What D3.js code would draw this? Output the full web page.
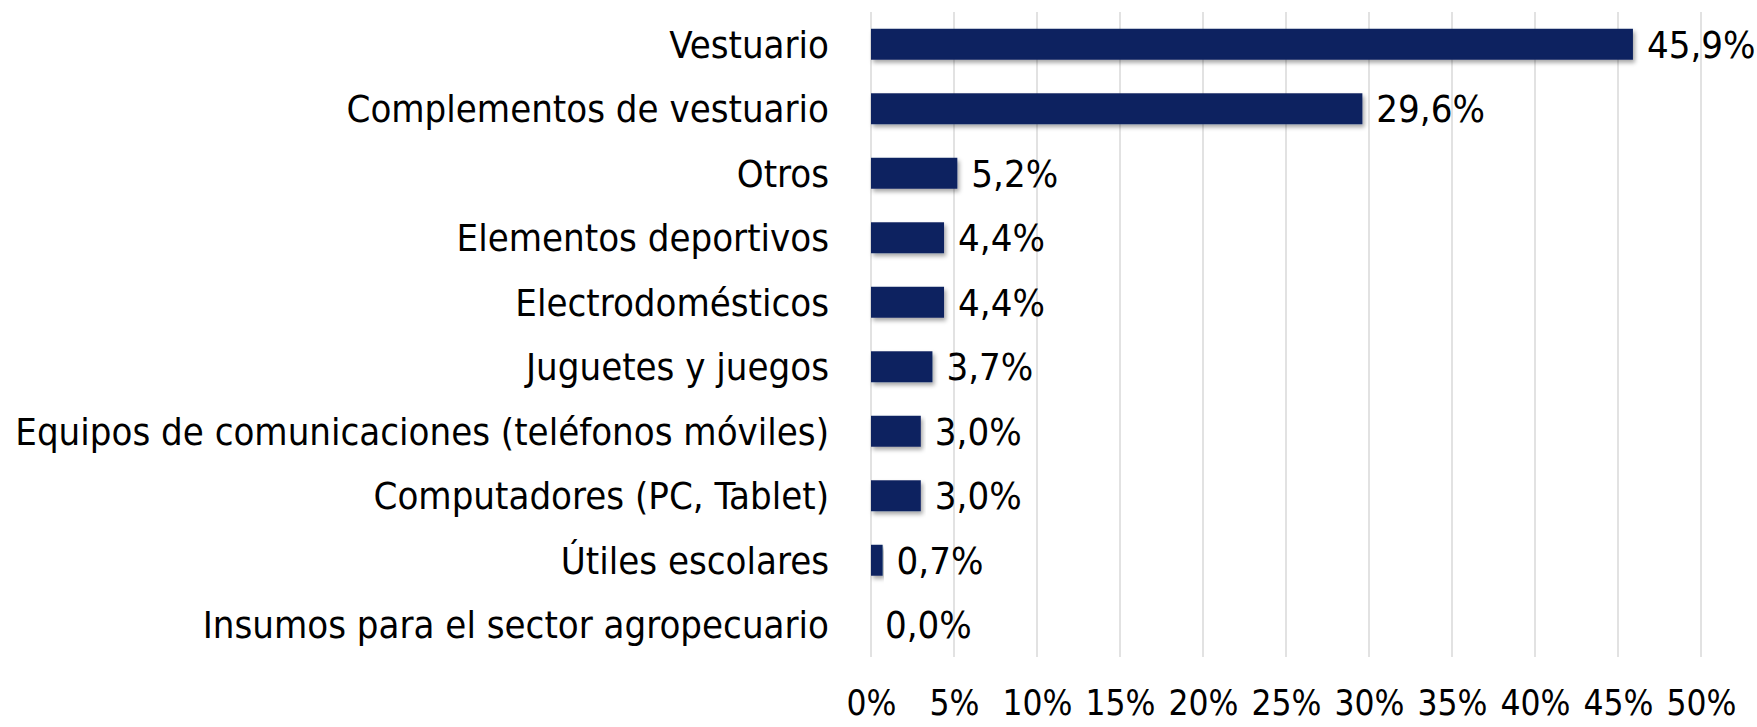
<!DOCTYPE html>
<html>
<head>
<meta charset="utf-8">
<script src="https://cdn.jsdelivr.net/npm/d3@7"></script>
<style>
    html, body { margin: 0; padding: 0; background: #fff; }
    svg { display: block; }
</style>
</head>
<body>
<svg id="chart" width="1757" height="727"></svg>
<script>
// categorias y valores (%)
let categories = [
    "Vestuario",
    "Complementos de vestuario",
    "Otros",
    "Elementos deportivos",
    "Electrodomésticos",
    "Juguetes y juegos",
    "Equipos de comunicaciones (teléfonos móviles)",
    "Computadores (PC, Tablet)",
    "Útiles escolares",
    "Insumos para el sector agropecuario"
];
let values = [45.9, 29.6, 5.2, 4.4, 4.4, 3.7, 3.0, 3.0, 0.7, 0.0];
let ticks = [0, 5, 10, 15, 20, 25, 30, 35, 40, 45, 50];

const BAR_COLOR = "#0b2361";
const GRID_COLOR = "#d9d9d9";
const FONT = "'DejaVu Sans Condensed', 'DejaVu Sans', sans-serif";
const FONT_SIZE = 38;
const TICK_FONT_SIZE = 35;

let svg = d3.select("#chart");
let plotLeft = 871, plotRight = 1701, plotTop = 12, plotBottom = 657;

let x = d3.scaleLinear().domain([0, 50]).range([plotLeft, plotRight]);
let y = d3.scaleBand().domain(categories).range([plotTop, plotBottom]).paddingInner(0.52).paddingOuter(0.26);

// formato con coma decimal
let locale = d3.formatLocale({ decimal: ",", thousands: ".", grouping: [3], currency: ["", ""] });
let fmt = locale.format(".1f");

// sombra de las barras
let defs = svg.append("defs");
let filter = defs.append("filter").attr("id", "shadow")
    .attr("x", "-5%").attr("y", "-20%").attr("width", "115%").attr("height", "160%");
filter.append("feDropShadow")
    .attr("dx", 2).attr("dy", 3).attr("stdDeviation", 2)
    .attr("flood-color", "#000").attr("flood-opacity", 0.35);

// lineas de la cuadricula
svg.append("g")
    .selectAll("line")
    .data(ticks)
    .join("line")
    .attr("x1", d => x(d)).attr("x2", d => x(d))
    .attr("y1", plotTop).attr("y2", plotBottom)
    .attr("stroke", GRID_COLOR)
    .attr("stroke-width", 1.5);

// eje x (solo etiquetas)
let xAxis = svg.append("g")
    .attr("transform", `translate(0,${plotBottom})`)
    .call(d3.axisBottom(x).tickValues(ticks).tickSize(0).tickPadding(0).tickFormat(d => d + "%"));
xAxis.select(".domain").remove();
xAxis.selectAll("text")
    .attr("y", 58)
    .attr("dy", 0)
    .attr("fill", "#000")
    .style("font-family", FONT)
    .style("font-size", TICK_FONT_SIZE + "px");

// eje y (categorias)
let yAxis = svg.append("g")
    .attr("transform", `translate(${plotLeft - 42},0)`)
    .call(d3.axisLeft(y).tickSize(0).tickPadding(0));
yAxis.select(".domain").remove();
yAxis.selectAll("text")
    .attr("dy", "0.35em")
    .attr("fill", "#000")
    .style("font-family", FONT)
    .style("font-size", FONT_SIZE + "px");

// barras
svg.append("g")
    .selectAll("rect")
    .data(values)
    .join("rect")
    .attr("x", x(0))
    .attr("y", (d, i) => y(categories[i]))
    .attr("width", d => x(d) - x(0))
    .attr("height", y.bandwidth())
    .attr("fill", BAR_COLOR)
    .attr("filter", d => d > 0 ? "url(#shadow)" : null);

// etiquetas de datos
svg.append("g")
    .selectAll("text")
    .data(values)
    .join("text")
    .attr("x", d => x(d) + 14)
    .attr("y", (d, i) => y(categories[i]) + y.bandwidth() / 2)
    .attr("dy", "0.35em")
    .attr("fill", "#000")
    .style("font-family", FONT)
    .style("font-size", FONT_SIZE + "px")
    .text(d => fmt(d) + "%");
</script>
</body>
</html>
